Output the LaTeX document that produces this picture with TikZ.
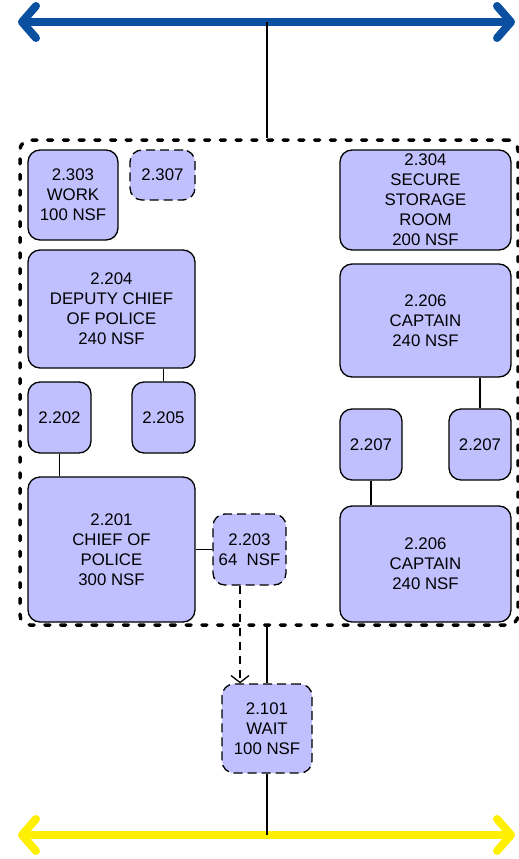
\documentclass[tikz,border=0pt]{standalone}
\usepackage{fontspec}
\setmainfont{Liberation Sans}
\usetikzlibrary{arrows.meta}
\definecolor{roomfill}{HTML}{C0C0FF}
\definecolor{busblue}{HTML}{0B4FA0}
\definecolor{busyellow}{HTML}{FFEF00}
\tikzset{
  room/.style = {draw, fill = roomfill, line width = 1.3pt, rounded corners = 12pt,
    align = center, inner sep = 0pt, font = \fontsize{16.8}{20}\selectfont},
  dashroom/.style = {room, dash pattern = on 9pt off 5pt},
  suite/.style = {draw, line width = 3.5pt, line cap = round, rounded corners = 10pt,
    dash pattern = on 5pt off 10.7pt, inner sep = 0pt},
  link/.style = {line width = 1.5pt},
  flow/.style = {line width = 1.3pt, dash pattern = on 8pt off 6pt,
    -{Straight Barb[length = 7pt, width = 18pt]}}
}
\begin{document}
\begin{tikzpicture}[x = 1pt, y = -1pt]
\useasboundingbox (0,0) rectangle (519,859);
\foreach \c/\y/\n in {busblue/22/top, busyellow/835/bot}
{
	\coordinate (\n) at (267,\y);
	\draw[\c, line width = 8pt, line cap = round,
	  {Straight Barb[round, length = 14pt, width = 32pt]}-{Straight Barb[round, length = 14pt, width = 32pt]}]
	  (18,\y) -- (515,\y);
}
\node[suite, minimum width = 498, minimum height = 485] (ward) at (269,382.5) {};
% left wing
\node[room, minimum width = 90, minimum height = 90] (r303) at (73,195) {2.303\\WORK\\100 NSF};
\node[dashroom, minimum width = 65, minimum height = 50] (r307) at (162.5,175) {2.307};
\node[room, minimum width = 167, minimum height = 118] (r204) at (111.5,309) {2.204\\DEPUTY CHIEF\\OF POLICE\\240 NSF};
\node[room, minimum width = 63, minimum height = 71] (r202) at (59.5,417.5) {2.202};
\node[room, minimum width = 63, minimum height = 71] (r205) at (163.5,417.5) {2.205};
\node[room, minimum width = 167, minimum height = 145] (r201) at (111.5,549.5) {2.201\\CHIEF OF\\POLICE\\300 NSF};
\node[dashroom, minimum width = 73, minimum height = 71] (r203) at (249.5,549.5) {2.203\\64~~NSF};
% right wing
\node[room, minimum width = 171, minimum height = 100] (r304) at (425.5,200) {2.304\\SECURE\\STORAGE\\ROOM\\200 NSF};
\node[room, minimum width = 171, minimum height = 113] (r206a) at (425.5,320.5) {2.206\\CAPTAIN\\240 NSF};
\node[room, minimum width = 62, minimum height = 71] (r207a) at (371,444.5) {2.207};
\node[room, minimum width = 62, minimum height = 71] (r207b) at (480,444.5) {2.207};
\node[room, minimum width = 171, minimum height = 116] (r206b) at (425.5,564) {2.206\\CAPTAIN\\240 NSF};
% entry
\node[dashroom, minimum width = 90, minimum height = 89] (r101) at (267,728.5) {2.101\\WAIT\\100 NSF};
\draw[link] (r205.north) -- (r205.north |- r204.south);
\draw[link] (r202.south) -- (r202.south |- r201.north);
\draw[link] (r201.east |- r203.west) -- (r203.west);
\draw[link] (r207b.north) -- (r207b.north |- r206a.south);
\draw[link] (r207a.south) -- (r207a.south |- r206b.north);
\draw[link] (top) -- (top |- ward.north);
\draw[link] (r101.north) -- (r101.north |- ward.south);
\draw[link] (r101.south) -- (bot);
\draw[flow] ([xshift = -9.5pt]r203.south) -- ([xshift = -27pt]r101.north);
\end{tikzpicture}
\end{document}
